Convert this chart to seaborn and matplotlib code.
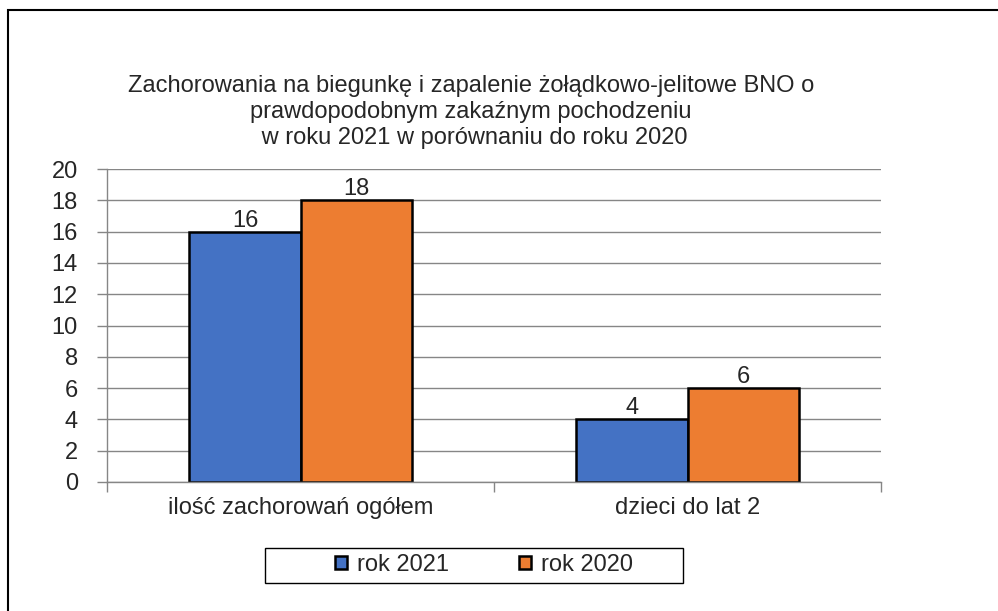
import matplotlib
matplotlib.use("Agg")
import matplotlib.pyplot as plt
import matplotlib.patches as mpatches
import pandas as pd
import seaborn as sns

sns.set_style("white")
plt.rcParams["font.family"] = ["Liberation Sans", "DejaVu Sans"]

# dane
categories = ["ilość zachorowań ogółem", "dzieci do lat 2"]
series_names = ["rok 2021", "rok 2020"]
values_2021 = [16, 4]
values_2020 = [18, 6]
y_ticks = [0, 2, 4, 6, 8, 10, 12, 14, 16, 18, 20]
title_lines = [
    "Zachorowania na biegunkę i zapalenie żołądkowo-jelitowe BNO o",
    "prawdopodobnym zakaźnym pochodzeniu",
    " w roku 2021 w porównaniu do roku 2020",
]
colors = ["#4472C4", "#ED7D31"]

df = pd.DataFrame({
    "kategoria": categories * 2,
    "rok": [series_names[0]] * 2 + [series_names[1]] * 2,
    "wartosc": values_2021 + values_2020,
})

W, H = 998, 611
FS = 17
fig = plt.figure(figsize=(W / 100, H / 100), dpi=100)
ax = fig.add_axes([107 / W, (H - 482) / H, 774 / W, 313 / H])

sns.barplot(
    data=df, x="kategoria", y="wartosc", hue="rok", order=categories,
    hue_order=series_names, palette=colors, saturation=1, width=0.574, gap=0,
    edgecolor="black", linewidth=1.8, legend=False, ax=ax,
)

for cont in ax.containers:
    ax.bar_label(cont, fontsize=FS, padding=0)

ax.set_ylim(0, 20)
ax.set_xlim(-0.5, 1.5)
ax.set_yticks(y_ticks)
ax.yaxis.grid(True, color="#868686", linewidth=1)
ax.set_axisbelow(True)
ax.set_xlabel("")
ax.set_ylabel("")
for s in ["top", "right"]:
    ax.spines[s].set_visible(False)
for s in ["left", "bottom"]:
    ax.spines[s].set_color("#868686")
    ax.spines[s].set_linewidth(1)

ax.tick_params(axis="y", length=7, width=1, color="#868686", pad=14, labelsize=FS, left=True)
ax.tick_params(axis="x", which="major", length=0, pad=11, labelsize=FS)
ax.set_xticks([-0.5, 0.5, 1.5], minor=True)
ax.tick_params(axis="x", which="minor", length=7, width=1, color="#868686", bottom=True)

fig.text(471 / W, 1 - 112 / H, "\n".join(title_lines), ha="center", va="center",
         fontsize=FS, linespacing=1.22)

handles = [mpatches.Patch(facecolor=c, edgecolor="black", linewidth=1.8, label=n)
           for c, n in zip(colors, series_names)]
fig.legend(handles=handles, loc="center", bbox_to_anchor=(484 / W, 1 - 565 / H),
           ncol=2, frameon=False, fontsize=FS, handlelength=0.5, handleheight=0.5,
           handletextpad=0.4, columnspacing=3.0)
fig.patches.append(mpatches.Rectangle((265 / W, 1 - 583 / H), 418 / W, 35 / H,
                                      transform=fig.transFigure, fill=False,
                                      edgecolor="black", linewidth=1))
fig.patches.append(mpatches.Rectangle((8 / W, -0.1), 2.0, (H - 10) / H + 0.1,
                                      transform=fig.transFigure, fill=False,
                                      edgecolor="black", linewidth=1.5))

fig.savefig("out.png", dpi=100)
